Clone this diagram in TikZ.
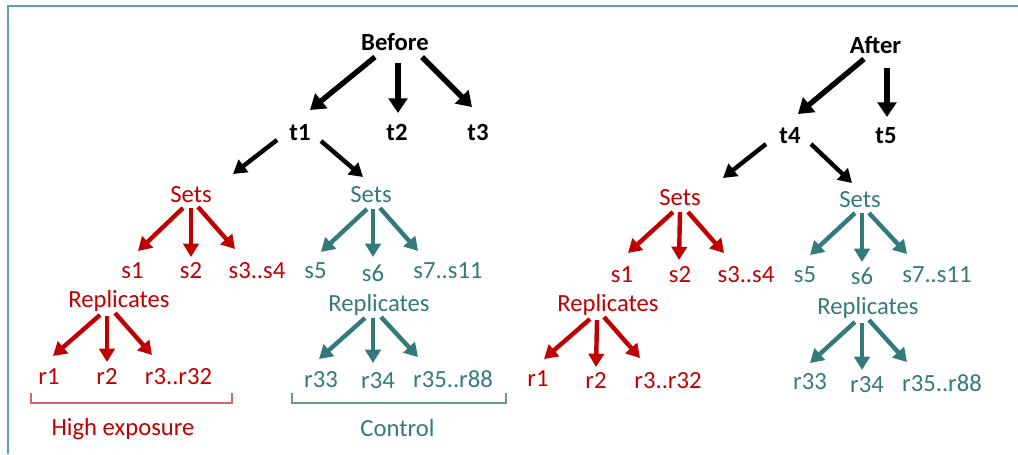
\documentclass[tikz,border=0pt]{standalone}
\usepackage{fontspec}
\setmainfont{Carlito}
\usetikzlibrary{arrows.meta,calc}

\definecolor{expred}{RGB}{192,0,0}
\definecolor{ctrlteal}{RGB}{52,122,122}
\definecolor{framebl}{RGB}{91,155,213}

\tikzset{
  lbl/.style={anchor=base,inner sep=0pt,font=\fontsize{18.5}{22}\selectfont},
  head/.style={lbl,font=\fontsize{18.5}{22}\selectfont\bfseries},
  arr/.style={line width=3.3pt,-{Triangle[length=10pt,width=11.5pt]}},
  bigarr/.style={line width=4pt,-{Triangle[length=11pt,width=14pt]}},
  hx/.style={lbl,text=expred},
  ct/.style={lbl,text=ctrlteal},
}

\begin{document}
\begin{tikzpicture}[x=0.75pt,y=0.75pt,yscale=-1,xscale=1]
\useasboundingbox (0,0) rectangle (1018,454);

%Frame
\draw [framebl,line width=1pt] (8,454) -- (8,6) -- (1018,6) ;

% Text Node -- before
\node [head] (bef) at (395,50) {Before};
\node [head] (t1) at (300,140) {t1};
\node [head] (t2) at (397,140) {t2};
\node [head] (t3) at (478,140) {t3};
\node [hx] (setsA) at (191,202) {Sets};
\node [ct] (setsB) at (371,202) {Sets};
\node [hx] (s1) at (132.5,278) {s1};
\node [hx] (s2) at (191,278) {s2};
\node [hx] (s3) at (257,278) {s3..s4};
\node [ct] (s5) at (315.5,278) {s5};
\node [ct] (s6) at (373,281) {s6};
\node [ct] (s7) at (448,278) {s7..s11};
\node [hx] (repA) at (119,307) {Replicates};
\node [ct] (repB) at (379,311) {Replicates};
\node [hx] (r1) at (49,384) {r1};
\node [hx] (r2) at (107,384) {r2};
\node [hx] (r3) at (178.5,384) {r3..r32};
\node [ct] (r33) at (321,387) {r33};
\node [ct] (r34) at (378,388) {r34};
\node [ct] (r35) at (453,387) {r35..r88};
\node [hx] (hi) at (123,435) {High exposure};
\node [ct] (ctl) at (397.5,436) {Control};

% Text Node -- after
\node [head] (aft) at (875.5,53) {After};
\node [head] (t4) at (790,143) {t4};
\node [head] (t5) at (886,143) {t5};
\node [hx] (setsC) at (680,205) {Sets};
\node [ct] (setsD) at (860,207) {Sets};
\node [hx] (s1R) at (622,282) {s1};
\node [hx] (s2R) at (680,282) {s2};
\node [hx] (s3R) at (746,282) {s3..s4};
\node [ct] (s5R) at (805,282) {s5};
\node [ct] (s6R) at (862,284) {s6};
\node [ct] (s7R) at (937,282) {s7..s11};
\node [hx] (repC) at (608,311) {Replicates};
\node [ct] (repD) at (868,314) {Replicates};
\node [hx] (r1R) at (538,386) {r1};
\node [hx] (r2R) at (596,388) {r2};
\node [hx] (r3R) at (668,388) {r3..r32};
\node [ct] (r33R) at (810,389) {r33};
\node [ct] (r34R) at (867,392) {r34};
\node [ct] (r35R) at (942,391) {r35..r88};

%Arrows -- before
\draw [bigarr] ($(bef.base)+(-20,7)$) -- ($(t1.base)+(10,-30)$) ;
\draw [bigarr] ($(bef.base)+(3,13)$) -- ($(t2.base)+(1,-27)$) ;
\draw [bigarr] ($(bef.base)+(27,7)$) -- ($(t3.base)+(-6,-33)$) ;
\draw [arr] ($(t1.base)+(-23,0)$) -- ($(setsA.base)+(42,-28)$) ;
\draw [arr] ($(t1.base)+(21,1)$) -- ($(setsB.base)+(-8,-25)$) ;
\draw [arr,expred] ($(setsA.base)+(-8,6)$) -- ($(s1.base)+(5.5,-27)$) ;
\draw [arr,expred] ($(setsA.base)+(0,6)$) -- ($(s2.base)+(0,-21)$) ;
\draw [arr,expred] ($(setsA.base)+(7,5)$) -- ($(s3.base)+(-22,-29)$) ;
\draw [arr,ctrlteal] ($(setsB.base)+(-4,7)$) -- ($(s5.base)+(5.5,-26)$) ;
\draw [arr,ctrlteal] ($(setsB.base)+(2,7)$) -- ($(s6.base)+(0,-24)$) ;
\draw [arr,ctrlteal] ($(setsB.base)+(9,6)$) -- ($(s7.base)+(-30,-27)$) ;
\draw [arr,expred] ($(repA.base)+(-19,8)$) -- ($(r1.base)+(4,-28)$) ;
\draw [arr,expred] ($(repA.base)+(-12,9)$) -- ($(r2.base)+(0,-22)$) ;
\draw [arr,expred] ($(repA.base)+(-4,6)$) -- ($(r3.base)+(-26.5,-29)$) ;
\draw [arr,ctrlteal] ($(repB.base)+(-14,7)$) -- ($(r33.base)+(-2,-28)$) ;
\draw [arr,ctrlteal] ($(repB.base)+(-6,7)$) -- ($(r34.base)+(-5,-25)$) ;
\draw [arr,ctrlteal] ($(repB.base)+(2,6)$) -- ($(r35.base)+(-35,-30)$) ;

%Arrows -- after
\draw [bigarr] ($(aft.base)+(-11.5,6)$) -- ($(t4.base)+(8,-29)$) ;
\draw [bigarr] ($(aft.base)+(11.5,15)$) -- ($(t5.base)+(1,-26)$) ;
\draw [arr] ($(t4.base)+(-24,1)$) -- ($(setsC.base)+(43,-27)$) ;
\draw [arr] ($(t4.base)+(21,1)$) -- ($(setsD.base)+(-8,-24)$) ;
\draw [arr,expred] ($(setsC.base)+(-7,7)$) -- ($(s1R.base)+(6,-29)$) ;
\draw [arr,expred] ($(setsC.base)+(0,7)$) -- ($(s2R.base)+(-1,-22)$) ;
\draw [arr,expred] ($(setsC.base)+(8,7)$) -- ($(s3R.base)+(-22,-29)$) ;
\draw [arr,ctrlteal] ($(setsD.base)+(-5,6)$) -- ($(s5R.base)+(5,-27)$) ;
\draw [arr,ctrlteal] ($(setsD.base)+(2,6)$) -- ($(s6R.base)+(0,-22)$) ;
\draw [arr,ctrlteal] ($(setsD.base)+(9,6)$) -- ($(s7R.base)+(-30,-28)$) ;
\draw [arr,expred] ($(repC.base)+(-18,8)$) -- ($(r1R.base)+(6,-27)$) ;
\draw [arr,expred] ($(repC.base)+(-11,9)$) -- ($(r2R.base)+(0,-21)$) ;
\draw [arr,expred] ($(repC.base)+(-4,6)$) -- ($(r3R.base)+(-28,-30)$) ;
\draw [arr,ctrlteal] ($(repD.base)+(-13,8)$) -- ($(r33R.base)+(0,-26)$) ;
\draw [arr,ctrlteal] ($(repD.base)+(-6,9)$) -- ($(r34R.base)+(-5,-22)$) ;
\draw [arr,ctrlteal] ($(repD.base)+(1,6)$) -- ($(r35R.base)+(-35,-29)$) ;

%Brackets
\draw [expred!60,line width=0.8pt] (31,393) -- (31,403) -- (232,403) -- (232,393) ;
\draw [ctrlteal!75,line width=0.8pt] (292,393) -- (292,403) -- (506,403) -- (506,393) ;

\end{tikzpicture}
\end{document}
